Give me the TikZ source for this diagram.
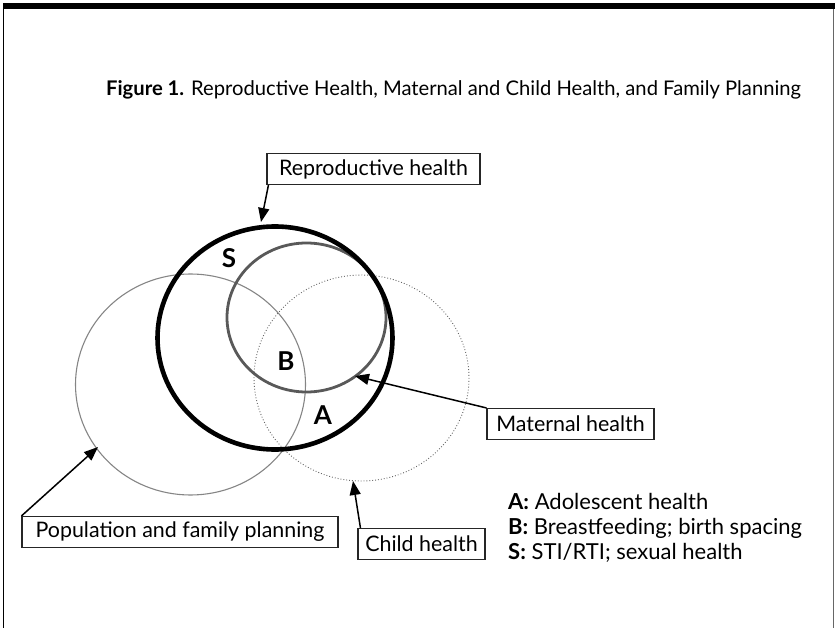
\documentclass[tikz,border=0pt]{standalone}
\usepackage{fontspec}
\setmainfont{Lato}
\usetikzlibrary{arrows.meta}

\begin{document}
\begin{tikzpicture}[x=1pt,y=1pt,yscale=-1,xscale=1,
  lbl/.style={draw=black!85, line width=1.1pt, inner sep=0pt, minimum height=31pt, font=\fontsize{21.4}{25}\selectfont},
  ptr/.style={-{Triangle[length=14pt,width=11pt]}, line width=1.5pt},
  region/.style={font=\fontsize{26}{30}\selectfont\bfseries},
  legend/.style={anchor=base west, inner sep=0pt, font=\fontsize{22}{26}\selectfont}]
\useasboundingbox (0,0) rectangle (835,628);

%Frame
\fill (3,3) rectangle (835,9.5) ;
\draw [line width=1.6pt] (3.5,9) -- (3.5,628) ;
\draw [line width=1.2pt, color=black!60] (833.7,9) -- (833.7,628) ;

% Text Node
\draw (106,96) node [anchor=base west][inner sep=0pt][font=\fontsize{20.2}{24}\selectfont] (title) {\textbf{Figure 1.} Reproductive Health, Maternal and Child Health, and Family Planning};

%Shape: Ellipse (population and family planning)
\draw [color=black!48, line width=1.1pt] (190.5,384.5) ellipse (115 and 110.5) ;
%Shape: Ellipse (child health)
\draw [color=black!60, line width=0.9pt, dotted] (361.5,378) ellipse (107.5 and 103) ;
%Shape: Ellipse (maternal health)
\draw [color=black!65, line width=2.8pt] (306.5,317.5) ellipse (79.5 and 74.5) ;
%Shape: Ellipse (reproductive health)
\draw [line width=4.6pt] (275,338) ellipse (117.5 and 111.5) ;

% Region letters
\draw (229,258) node [region] (regS) {S};
\draw (286,361) node [region] (regB) {B};
\draw (323,415) node [region] (regA) {A};

% Text Node
\draw (373.5,169) node [lbl, minimum width=213pt] (repro) {Reproductive health};
% Text Node
\draw (570.5,424) node [lbl, minimum width=167pt] (mat) {Maternal health};
% Text Node
\draw (180,532) node [lbl, minimum width=316pt] (pop) {Population and family planning};
% Text Node
\draw (421.5,544) node [lbl, minimum width=127pt] (child) {Child health};

% Arrow ends on the circles
\coordinate (reproEnd) at (261,222);
\coordinate (matEnd) at (355,376);
\coordinate (popEnd) at (98,447);
\coordinate (childEnd) at (353,481);

\draw [ptr] ([xshift=2pt]repro.south west) -- (reproEnd) ;
\draw [ptr] (mat.north west) -- (matEnd) ;
\draw [ptr] (pop.north west) -- (popEnd) ;
\draw [ptr] ([xshift=3pt]child.north west) -- (childEnd) ;

% Legend
\draw (508,509) node [legend] (legA) {\textbf{A:} Adolescent health};
\draw (508,534) node [legend] (legB) {\textbf{B:} Breastfeeding; birth spacing};
\draw (508,559) node [legend] (legS) {\textbf{S:} STI/RTI; sexual health};

\end{tikzpicture}
\end{document}
